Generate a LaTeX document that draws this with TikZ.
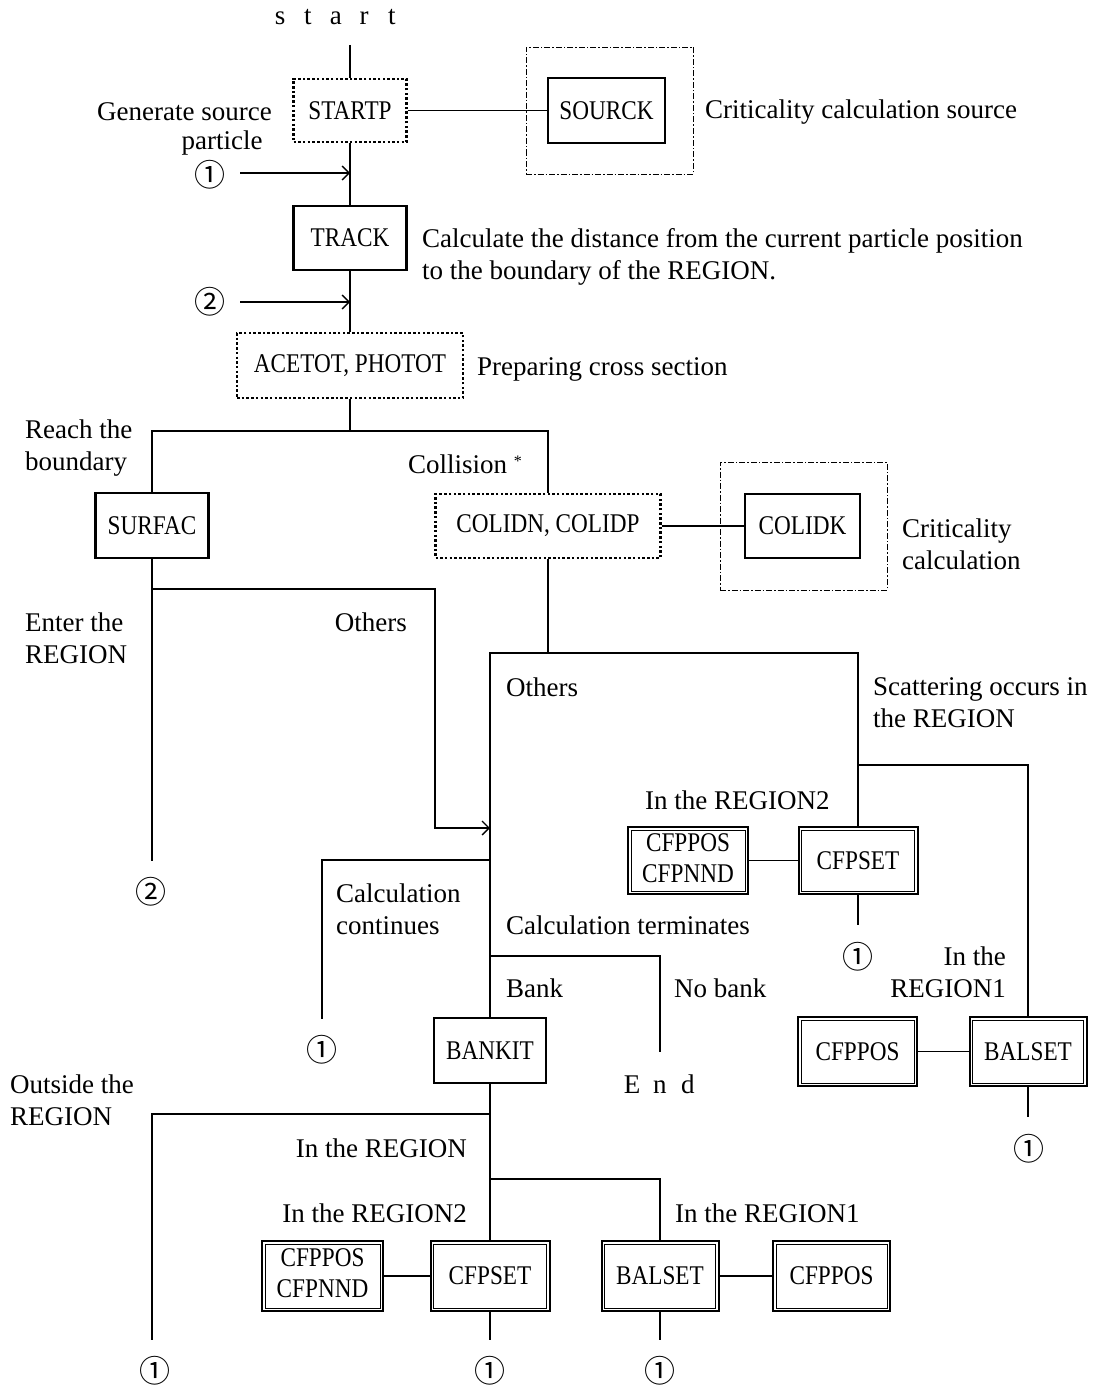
\documentclass[tikz,border=0pt]{standalone}
\usepackage{fontspec}
\setmainfont{Liberation Serif}
\newfontfamily\circf{Noto Sans CJK JP}
\usetikzlibrary{arrows.meta}
\newcommand\mt[1]{\scalebox{0.86}[1]{\fontsize{27}{31}\selectfont #1}}
\newcommand\mtt[2]{\scalebox{0.86}[1]{\fontsize{27}{31}\selectfont\begin{tabular}{@{}c@{}}#1\\#2\end{tabular}}}
\newcommand\cn[1]{{\circf\fontsize{31}{31}\selectfont #1}}
\newcommand\spl[1]{\makebox[28pt]{#1}}
\begin{document}
\begin{tikzpicture}[x=1pt,y=-1pt,
  lbl/.style={font=\fontsize{27}{32}\selectfont, inner sep=0pt, align=left},
  lblr/.style={font=\fontsize{27}{32}\selectfont, inner sep=0pt, align=right},
  sz/.style 2 args={minimum width=#1pt, minimum height=#2pt},
  sbox/.style={draw, line width=2.5pt, inner sep=0pt},
  dbox/.style={draw, line width=2.4pt, dash pattern=on 2.5pt off 2.2pt, inner sep=0pt},
  ddbox/.style={draw, line width=0.9pt, dash pattern=on 6pt off 2pt on 1.5pt off 2pt, inner sep=0pt},
  wbox/.style={draw, line width=2pt, inner sep=0pt,
    append after command={\pgfextra{\draw[line width=0.9pt] ([shift={(4pt,4pt)}]\tikzlastnode.south west) rectangle ([shift={(-4pt,-4pt)}]\tikzlastnode.north east);}}},
  conn/.style={line width=1.3pt},
  arr/.style={conn, -{Straight Barb[length=7pt,width=14pt]}},
  num/.style={inner sep=0pt}
]
\useasboundingbox (0,0) rectangle (1096,1386);

% boxes
\node[ddbox, sz={167}{127}] (srcgrp) at (609.5,110.5) {};
\node[ddbox, sz={167}{128}] (colgrp) at (803.5,526) {};
\node[dbox, sz={113}{63}] (startp) at (350,110.5) {\mt{STARTP}};
\node[sbox, sz={117}{65}] (sourck) at (606.5,110.5) {\mt{SOURCK}};
\node[sbox, sz={113}{64}] (track) at (350,238) {\mt{TRACK}};
\node[dbox, sz={226}{65}] (acetot) at (350,365.5) {\mt{ACETOT, PHOTOT}};
\node[sbox, sz={113}{65}] (surfac) at (152,525.5) {\mt{SURFAC}};
\node[dbox, sz={225}{64}] (colidn) at (548,526) {\mt{COLIDN, COLIDP}};
\node[sbox, sz={115}{64}] (colidk) at (802.5,526) {\mt{COLIDK}};
\node[wbox, sz={120}{67}] (cfpnnd1) at (688,860.5) {\mtt{CFPPOS}{CFPNND}};
\node[wbox, sz={119}{67}] (cfpset1) at (858,860.5) {\mt{CFPSET}};
\node[wbox, sz={119}{69}] (cfppos1) at (857.5,1051.5) {\mt{CFPPOS}};
\node[wbox, sz={117}{69}] (balset1) at (1028,1051.5) {\mt{BALSET}};
\node[sbox, sz={112}{65}] (bankit) at (490,1050.5) {\mt{BANKIT}};
\node[wbox, sz={121}{70}] (cfpnnd2) at (322.5,1276) {\mtt{CFPPOS}{CFPNND}};
\node[wbox, sz={119}{70}] (cfpset2) at (490,1276) {\mt{CFPSET}};
\node[wbox, sz={117}{70}] (balset2) at (660,1276) {\mt{BALSET}};
\node[wbox, sz={117}{70}] (cfppos2) at (831.5,1276) {\mt{CFPPOS}};

% start / end
\node[inner sep=0pt, font=\fontsize{27}{31}\selectfont] (start) at (336,17) {\spl{s}\spl{t}\spl{a}\spl{r}\spl{t}};
\node[inner sep=0pt, font=\fontsize{27}{31}\selectfont] (endt) at (660,1084) {\spl{E}\spl{n}\spl{d}};

% circled numbers
\node[num] (c1) at (210,175) {\cn{①}};
\node[num] (c2) at (210,302) {\cn{②}};
\node[num] (c2b) at (151,892) {\cn{②}};
\node[num] (c1b) at (858,957) {\cn{①}};
\node[num] (c1c) at (322,1050) {\cn{①}};
\node[num] (c1d) at (1029,1149) {\cn{①}};
\node[num] (c1e) at (155,1371) {\cn{①}};
\node[num] (c1f) at (490,1371) {\cn{①}};
\node[num] (c1g) at (660,1371) {\cn{①}};

% coordinates
\coordinate (s0) at (350,45);
\coordinate (a1) at (240,173);
\coordinate (j1) at (350,173);
\coordinate (a2) at (240,302);
\coordinate (j2) at (350,302);
\coordinate (b1) at (350,431);
\coordinate (b2) at (152,589);
\coordinate (e2) at (152,861);
\coordinate (k3) at (435,589);
\coordinate (j3) at (490,828);
\coordinate (t1) at (490,653);
\coordinate (t2) at (858,653);
\coordinate (t3) at (858,765);
\coordinate (e3) at (858,925);
\coordinate (e4) at (1028,1117);
\coordinate (t4) at (490,860);
\coordinate (e5) at (322,1019);
\coordinate (t5) at (490,956);
\coordinate (e6) at (660,1052);
\coordinate (t6) at (490,1114);
\coordinate (e7) at (152,1340);
\coordinate (t7) at (490,1179);
\coordinate (e8) at (490,1340);
\coordinate (e9) at (660,1340);

% connectors
\draw[conn] (s0) -- (startp.north);
\draw[conn] (startp.east) -- (sourck.west);
\draw[conn] (startp.south) -- (track.north);
\draw[arr] (a1) -- (j1);
\draw[conn] (track.south) -- (acetot.north);
\draw[arr] (a2) -- (j2);
\draw[conn] (acetot.south) -- (b1);
\draw[conn] (surfac.north) -- (surfac.north |- b1) -- (colidn.north |- b1) -- (colidn.north);
\draw[conn] (colidn.east) -- (colidk.west);
\draw[conn] (surfac.south) -- (e2);
\draw[arr] (b2) -- (k3) |- (j3);
\draw[conn] (colidn.south) -- (colidn.south |- t1);
\draw[conn] (bankit.north) -- (t1) -- (t2) -- (cfpset1.north);
\draw[conn] (cfpnnd1.east) -- (cfpset1.west);
\draw[conn] (t3) -| (balset1.north);
\draw[conn] (cfpset1.south) -- (e3);
\draw[conn] (cfppos1.east) -- (balset1.west);
\draw[conn] (balset1.south) -- (e4);
\draw[conn] (t4) -| (e5);
\draw[conn] (t5) -| (e6);
\draw[conn] (bankit.south) -- (cfpset2.north);
\draw[conn] (t6) -| (e7);
\draw[conn] (t7) -| (balset2.north);
\draw[conn] (cfpnnd2.east) -- (cfpset2.west);
\draw[conn] (balset2.east) -- (cfppos2.west);
\draw[conn] (cfpset2.south) -- (e8);
\draw[conn] (balset2.south) -- (e9);

% labels
\node[lbl, anchor=east] (l1) at (272,112) {Generate source};
\node[lbl] (l1b) at (222,143) {particle};
\node[lbl, anchor=west] (l2) at (705,112) {Criticality calculation source};
\node[lbl, anchor=west] (l3) at (422,256.5) {Calculate the distance from the current particle position\\to the boundary of the REGION.};
\node[lbl, anchor=west] (l4) at (477,369) {Preparing cross section};
\node[lbl, anchor=west] (l5) at (25,448) {Reach the\\boundary};
\node[lbl, anchor=east] (l6) at (522,464) {Collision \raisebox{0.55ex}{\fontsize{16}{16}\selectfont *}};
\node[lbl, anchor=west] (l7) at (902,544) {Criticality\\calculation};
\node[lbl, anchor=west] (l8) at (25,638) {Enter the\\REGION};
\node[lbl, anchor=east] (l9) at (407,622) {Others};
\node[lbl, anchor=west] (l10) at (506,687) {Others};
\node[lbl, anchor=west] (l11) at (873,703) {Scattering occurs in\\the REGION};
\node[lbl, anchor=west] (l12) at (645,800) {In the REGION2};
\node[lbl, anchor=west] (l13) at (336,909) {Calculation\\continues};
\node[lbl, anchor=west] (l14) at (506,925) {Calculation terminates};
\node[lbl, anchor=west] (l15) at (506,988) {Bank};
\node[lbl, anchor=west] (l16) at (674,988) {No bank};
\node[lblr, anchor=east] (l17) at (1006,972.5) {In the\\REGION1};
\node[lbl, anchor=west] (l18) at (10,1100) {Outside the\\REGION};
\node[lbl, anchor=east] (l19) at (467,1148) {In the REGION};
\node[lbl, anchor=east] (l20) at (467,1213) {In the REGION2};
\node[lbl, anchor=west] (l21) at (675,1213) {In the REGION1};
\end{tikzpicture}
\end{document}
